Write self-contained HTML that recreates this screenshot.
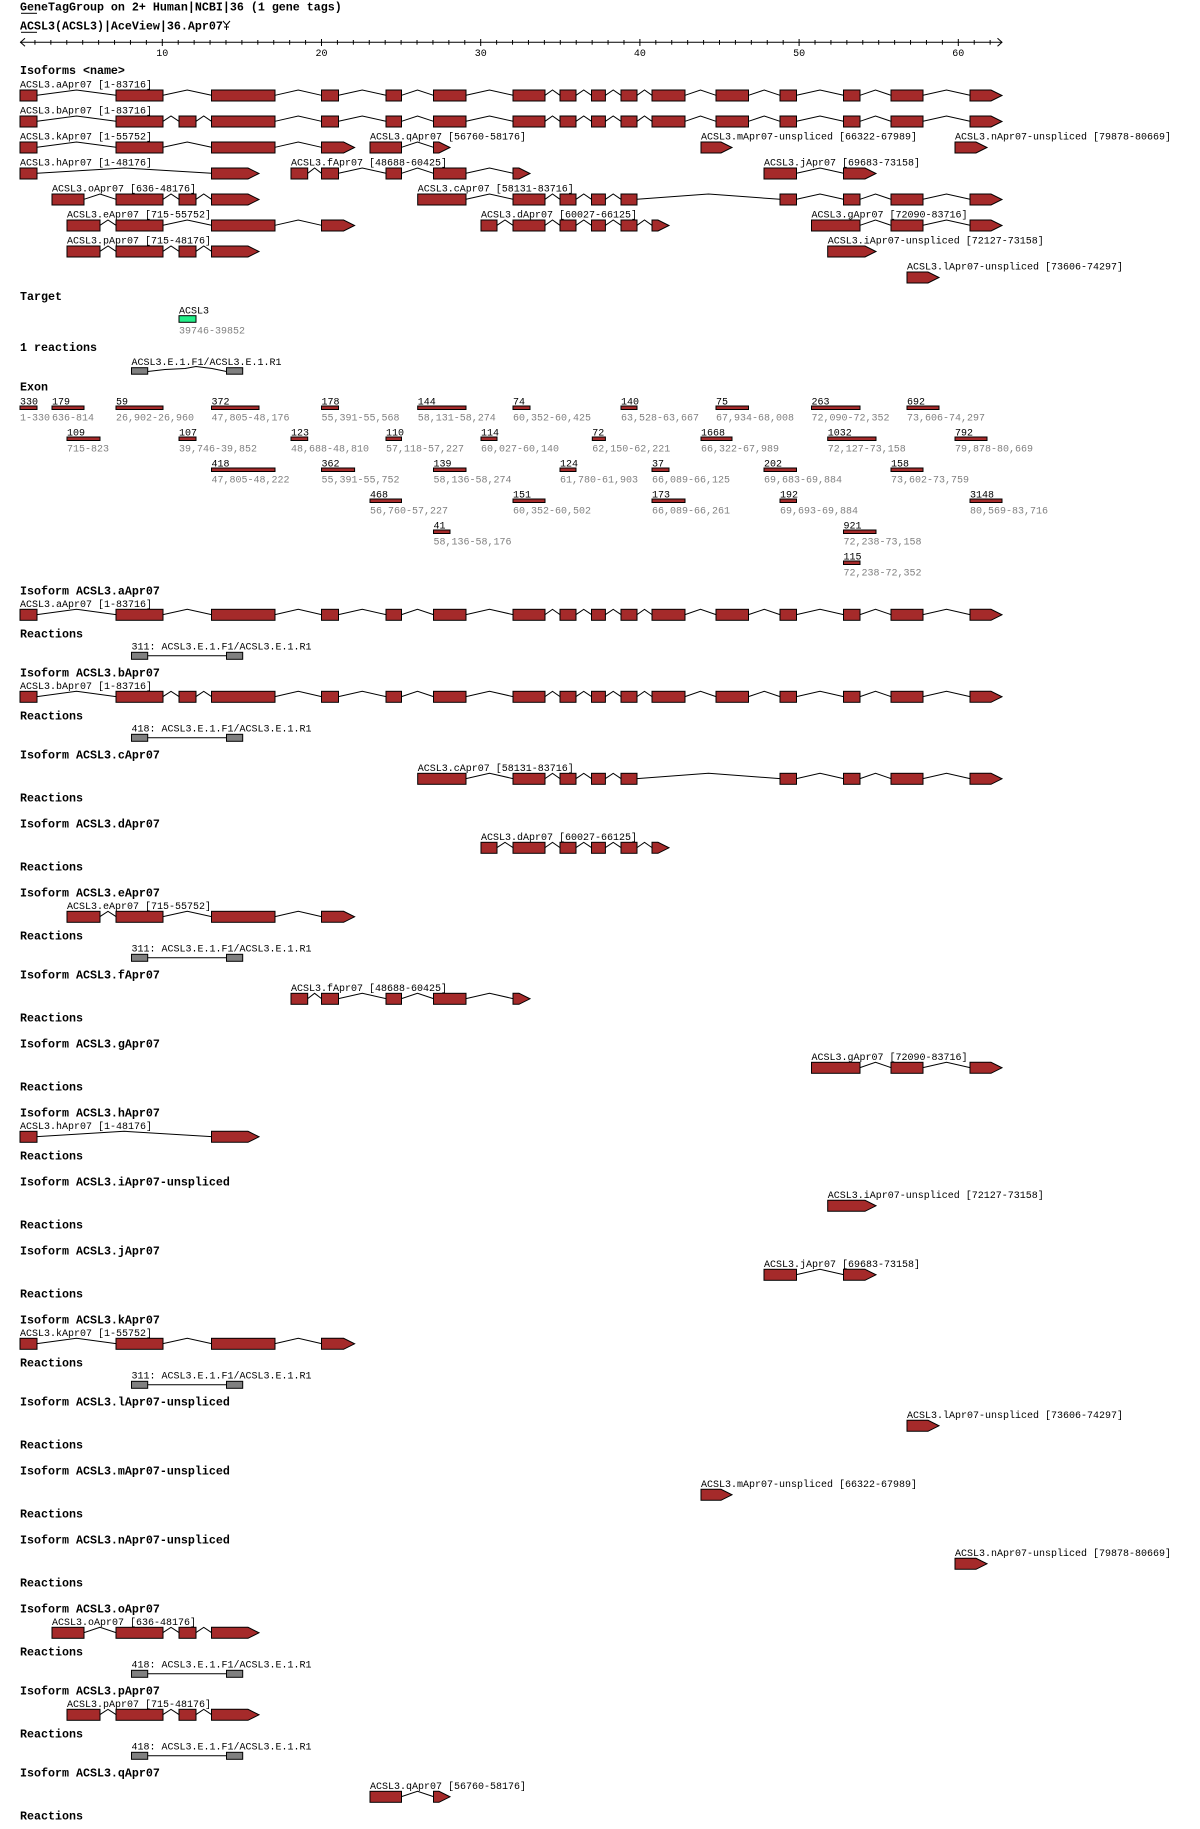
<!DOCTYPE html>
<html><head><meta charset="utf-8"><style>
html,body{margin:0;padding:0;background:#fff}
svg{display:block}
.t{font-family:"Liberation Mono",monospace;font-size:10px;fill:#000}
.g{fill:#808080}
.b{font-family:"Liberation Mono",monospace;font-size:11.67px;font-weight:bold;fill:#000}
</style></head><body>
<svg id="s" xmlns="http://www.w3.org/2000/svg" width="1200" height="1829" viewBox="0 0 1200 1829">
<g id="shapes"></g>
<text class="b" x="20" y="10.5">GeneTagGroup on 2+ Human|NCBI|36 (1 gene tags)</text>
<line x1="21" y1="13.3" x2="37" y2="13.3" stroke="#000"/>
<text class="b" x="20" y="29.3">ACSL3(ACSL3)|AceView|36.Apr07</text>
<line x1="21" y1="32.3" x2="37" y2="32.3" stroke="#000"/>
<path d="M223,21 L226.5,25 L230,21 M226.5,25 L226.5,30 M224,27 L229,27" stroke="#000" fill="none"/>
<g class="t" text-anchor="middle">
<text x="162.3" y="56">10</text><text x="321.5" y="56">20</text><text x="480.7" y="56">30</text><text x="639.9" y="56">40</text><text x="799.1" y="56">50</text><text x="958.3" y="56">60</text>
</g>
<text class="b" x="20" y="74">Isoforms &lt;name&gt;</text>
<g class="t">
<text x="20" y="87.5">ACSL3.aApr07 [1-83716]</text>
<text x="20" y="113.5">ACSL3.bApr07 [1-83716]</text>
<text x="20" y="139.5">ACSL3.kApr07 [1-55752]</text>
<text x="370" y="139.5">ACSL3.qApr07 [56760-58176]</text>
<text x="701" y="139.5">ACSL3.mApr07-unspliced [66322-67989]</text>
<text x="955" y="139.5">ACSL3.nApr07-unspliced [79878-80669]</text>
<text x="20" y="165.5">ACSL3.hApr07 [1-48176]</text>
<text x="291" y="165.5">ACSL3.fApr07 [48688-60425]</text>
<text x="764" y="165.5">ACSL3.jApr07 [69683-73158]</text>
<text x="52" y="191.5">ACSL3.oApr07 [636-48176]</text>
<text x="417.7" y="191.5">ACSL3.cApr07 [58131-83716]</text>
<text x="67" y="217.5">ACSL3.eApr07 [715-55752]</text>
<text x="481" y="217.5">ACSL3.dApr07 [60027-66125]</text>
<text x="811.5" y="217.5">ACSL3.gApr07 [72090-83716]</text>
<text x="67" y="243.5">ACSL3.pApr07 [715-48176]</text>
<text x="827.7" y="243.5">ACSL3.iApr07-unspliced [72127-73158]</text>
<text x="907" y="269.5">ACSL3.lApr07-unspliced [73606-74297]</text>
</g>
<text class="b" x="20" y="300">Target</text>
<text class="t" x="179" y="313.3">ACSL3</text>
<text class="t g" x="179" y="333.3">39746-39852</text>
<text class="b" x="20" y="351">1 reactions</text>
<text class="t" x="131.5" y="365">ACSL3.E.1.F1/ACSL3.E.1.R1</text>
<text class="b" x="20" y="390.5">Exon</text>
<g class="t">
<text x="20" y="404.3">330</text><text x="52" y="404.3">179</text><text x="116" y="404.3">59</text><text x="211.5" y="404.3">372</text><text x="321.5" y="404.3">178</text><text x="417.7" y="404.3">144</text><text x="513" y="404.3">74</text><text x="621" y="404.3">140</text><text x="716" y="404.3">75</text><text x="811.5" y="404.3">263</text><text x="907" y="404.3">692</text>
<text x="67" y="435.3">109</text><text x="179" y="435.3">107</text><text x="291" y="435.3">123</text><text x="386" y="435.3">110</text><text x="481" y="435.3">114</text><text x="592.3" y="435.3">72</text><text x="701" y="435.3">1668</text><text x="827.7" y="435.3">1032</text><text x="955" y="435.3">792</text>
<text x="211.5" y="466.3">418</text><text x="321.5" y="466.3">362</text><text x="433.5" y="466.3">139</text><text x="560" y="466.3">124</text><text x="652" y="466.3">37</text><text x="764" y="466.3">202</text><text x="891" y="466.3">158</text>
<text x="370" y="497.3">468</text><text x="513" y="497.3">151</text><text x="652" y="497.3">173</text><text x="780" y="497.3">192</text><text x="970" y="497.3">3148</text>
<text x="433.5" y="528.3">41</text><text x="843.5" y="528.3">921</text>
<text x="843.5" y="559.3">115</text>
</g>
<g class="t g">
<text x="20" y="420.3">1-330</text><text x="52" y="420.3">636-814</text><text x="116" y="420.3">26,902-26,960</text><text x="211.5" y="420.3">47,805-48,176</text><text x="321.5" y="420.3">55,391-55,568</text><text x="417.7" y="420.3">58,131-58,274</text><text x="513" y="420.3">60,352-60,425</text><text x="621" y="420.3">63,528-63,667</text><text x="716" y="420.3">67,934-68,008</text><text x="811.5" y="420.3">72,090-72,352</text><text x="907" y="420.3">73,606-74,297</text>
<text x="67" y="451.3">715-823</text><text x="179" y="451.3">39,746-39,852</text><text x="291" y="451.3">48,688-48,810</text><text x="386" y="451.3">57,118-57,227</text><text x="481" y="451.3">60,027-60,140</text><text x="592.3" y="451.3">62,150-62,221</text><text x="701" y="451.3">66,322-67,989</text><text x="827.7" y="451.3">72,127-73,158</text><text x="955" y="451.3">79,878-80,669</text>
<text x="211.5" y="482.3">47,805-48,222</text><text x="321.5" y="482.3">55,391-55,752</text><text x="433.5" y="482.3">58,136-58,274</text><text x="560" y="482.3">61,780-61,903</text><text x="652" y="482.3">66,089-66,125</text><text x="764" y="482.3">69,683-69,884</text><text x="891" y="482.3">73,602-73,759</text>
<text x="370" y="513.3">56,760-57,227</text><text x="513" y="513.3">60,352-60,502</text><text x="652" y="513.3">66,089-66,261</text><text x="780" y="513.3">69,693-69,884</text><text x="970" y="513.3">80,569-83,716</text>
<text x="433.5" y="544.3">58,136-58,176</text><text x="843.5" y="544.3">72,238-73,158</text>
<text x="843.5" y="575.3">72,238-72,352</text>
</g>
<!-- isoform blocks -->
<text class="b" x="20" y="594.5">Isoform ACSL3.aApr07</text>
<text class="t" x="20" y="606.8">ACSL3.aApr07 [1-83716]</text>
<text class="b" x="20" y="637.5">Reactions</text>
<text class="t" x="131.5" y="649.6">311: ACSL3.E.1.F1/ACSL3.E.1.R1</text>

<text class="b" x="20" y="676.5">Isoform ACSL3.bApr07</text>
<text class="t" x="20" y="688.8">ACSL3.bApr07 [1-83716]</text>
<text class="b" x="20" y="719.5">Reactions</text>
<text class="t" x="131.5" y="731.6">418: ACSL3.E.1.F1/ACSL3.E.1.R1</text>

<text class="b" x="20" y="758.5">Isoform ACSL3.cApr07</text>
<text class="t" x="417.7" y="770.8">ACSL3.cApr07 [58131-83716]</text>
<text class="b" x="20" y="801.5">Reactions</text>

<text class="b" x="20" y="827.5">Isoform ACSL3.dApr07</text>
<text class="t" x="481" y="839.8">ACSL3.dApr07 [60027-66125]</text>
<text class="b" x="20" y="870.5">Reactions</text>

<text class="b" x="20" y="896.5">Isoform ACSL3.eApr07</text>
<text class="t" x="67" y="908.8">ACSL3.eApr07 [715-55752]</text>
<text class="b" x="20" y="939.5">Reactions</text>
<text class="t" x="131.5" y="951.6">311: ACSL3.E.1.F1/ACSL3.E.1.R1</text>

<text class="b" x="20" y="978.5">Isoform ACSL3.fApr07</text>
<text class="t" x="291" y="990.8">ACSL3.fApr07 [48688-60425]</text>
<text class="b" x="20" y="1021.5">Reactions</text>

<text class="b" x="20" y="1047.5">Isoform ACSL3.gApr07</text>
<text class="t" x="811.5" y="1059.8">ACSL3.gApr07 [72090-83716]</text>
<text class="b" x="20" y="1090.5">Reactions</text>

<text class="b" x="20" y="1116.5">Isoform ACSL3.hApr07</text>
<text class="t" x="20" y="1128.8">ACSL3.hApr07 [1-48176]</text>
<text class="b" x="20" y="1159.5">Reactions</text>

<text class="b" x="20" y="1185.5">Isoform ACSL3.iApr07-unspliced</text>
<text class="t" x="827.7" y="1197.8">ACSL3.iApr07-unspliced [72127-73158]</text>
<text class="b" x="20" y="1228.5">Reactions</text>

<text class="b" x="20" y="1254.5">Isoform ACSL3.jApr07</text>
<text class="t" x="764" y="1266.8">ACSL3.jApr07 [69683-73158]</text>
<text class="b" x="20" y="1297.5">Reactions</text>

<text class="b" x="20" y="1323.5">Isoform ACSL3.kApr07</text>
<text class="t" x="20" y="1335.8">ACSL3.kApr07 [1-55752]</text>
<text class="b" x="20" y="1366.5">Reactions</text>
<text class="t" x="131.5" y="1378.6">311: ACSL3.E.1.F1/ACSL3.E.1.R1</text>

<text class="b" x="20" y="1405.5">Isoform ACSL3.lApr07-unspliced</text>
<text class="t" x="907" y="1417.8">ACSL3.lApr07-unspliced [73606-74297]</text>
<text class="b" x="20" y="1448.5">Reactions</text>

<text class="b" x="20" y="1474.5">Isoform ACSL3.mApr07-unspliced</text>
<text class="t" x="701" y="1486.8">ACSL3.mApr07-unspliced [66322-67989]</text>
<text class="b" x="20" y="1517.5">Reactions</text>

<text class="b" x="20" y="1543.5">Isoform ACSL3.nApr07-unspliced</text>
<text class="t" x="955" y="1555.8">ACSL3.nApr07-unspliced [79878-80669]</text>
<text class="b" x="20" y="1586.5">Reactions</text>

<text class="b" x="20" y="1612.5">Isoform ACSL3.oApr07</text>
<text class="t" x="52" y="1624.8">ACSL3.oApr07 [636-48176]</text>
<text class="b" x="20" y="1655.5">Reactions</text>
<text class="t" x="131.5" y="1667.6">418: ACSL3.E.1.F1/ACSL3.E.1.R1</text>

<text class="b" x="20" y="1694.5">Isoform ACSL3.pApr07</text>
<text class="t" x="67" y="1706.8">ACSL3.pApr07 [715-48176]</text>
<text class="b" x="20" y="1737.5">Reactions</text>
<text class="t" x="131.5" y="1749.6">418: ACSL3.E.1.F1/ACSL3.E.1.R1</text>

<text class="b" x="20" y="1776.5">Isoform ACSL3.qApr07</text>
<text class="t" x="370" y="1788.8">ACSL3.qApr07 [56760-58176]</text>
<text class="b" x="20" y="1819.5">Reactions</text>
</svg>
<script>
(function(){
var NS="http://www.w3.org/2000/svg",G=document.getElementById("shapes");
function el(n,a){var e=document.createElementNS(NS,n);for(var k in a)e.setAttribute(k,a[k]);G.appendChild(e);return e;}
var RED="#a52a2a";
// axis
var AY=42.3;
el("line",{x1:20,y1:AY,x2:1002,y2:AY,stroke:"#000"});
el("polyline",{points:"25,38.3 20.5,42.3 25,46.3",fill:"none",stroke:"#000"});
el("polyline",{points:"997.5,38.3 1002,42.3 997.5,46.3",fill:"none",stroke:"#000"});
for(var u=2;u<=62;u++){var x=162.3+(u-10)*15.92;var m=(u%10==0);
el("line",{x1:x,y1:m?39:40,x2:x,y2:m?46:44.7,stroke:"#000"});}
var S={E1:[20,37],E2:[116,163],Eb:[179,196],E3:[211.5,275],E4:[321.5,338.5],E5:[386,401.5],E6:[433.5,466],E7:[513,545],E8:[560,576],E9:[591.5,605.4],E10:[621,637],E11:[652,685],E12:[716,748.5],E13:[780,796.5],E14:[843.5,860],E15:[891,923]};
function A(a,b){return {a:1,x:[a,b]};}
var full=["E4","E5","E6","E7","E8","E9","E10","E11","E12","E13","E14","E15"];
function L(arr){return arr.map(function(v){return (typeof v=="string")?{x:S[v]}:(Array.isArray(v)?{x:v}:v);});}
var ISO={
a:L(["E1","E2","E3"].concat(full,[A(970,1002)])),
b:L(["E1","E2","Eb","E3"].concat(full,[A(970,1002)])),
k:L(["E1","E2","E3",A(321.5,354.6)]),
h:L(["E1",A(211.5,259)]),
o:L([[52,84],"E2","Eb",A(211.5,259)]),
e:L([[67,100],"E2","E3",A(321.5,354.6)]),
p:L([[67,100],"E2","Eb",A(211.5,259)]),
q:L([[370,401.5],A(433.5,450)]),
f:L([[291,307.7],"E4","E5","E6",A(513,530)]),
c:L([[417.7,466],"E7","E8","E9","E10","E13","E14","E15",A(970,1002)]),
d:L([[481,497],"E7","E8","E9","E10",A(652,669)]),
m:L([A(701,732)]),
n:L([A(955,987)]),
j:L([[764,796.5],A(843.5,876)]),
g:L([[811.5,860],"E15",A(970,1002)]),
i:L([A(827.7,876)]),
l:L([A(907,939)])
};
function draw(k,t){var s=ISO[k],h=11;
for(var i=0;i<s.length;i++){var x1=s[i].x[0],x2=s[i].x[1];
if(i>0){var p=s[i-1].x[1];el("polyline",{points:p+","+(t+5.3)+" "+((p+x1)/2)+","+t+" "+x1+","+(t+5.3),fill:"none",stroke:"#000"});}
if(s[i].a){var hx=x2-11;if(hx<x1)hx=x1;
el("polygon",{points:x1+","+t+" "+hx+","+t+" "+x2+","+(t+h/2)+" "+hx+","+(t+h)+" "+x1+","+(t+h),fill:RED,stroke:"#000"});}
else el("rect",{x:x1,y:t,width:x2-x1,height:h,fill:RED,stroke:"#000"});}}
// top rows
[["a",90],["b",116],["k",142],["q",142],["m",142],["n",142],["h",168],["f",168],["j",168],["o",194],["c",194],["e",220],["d",220],["g",220],["p",246],["i",246],["l",272]].forEach(function(r){draw(r[0],r[1]);});
// target
el("rect",{x:179,y:315.7,width:17,height:6.6,fill:"#22ee88",stroke:"#000"});
// top primer
el("polyline",{points:"147.7,371.5 165,369.5 185,368.5 196,366.5 212,368.5 226.5,371.5",fill:"none",stroke:"#000"});
el("rect",{x:131.5,y:367.7,width:16.2,height:6.5,fill:"#808080",stroke:"#000"});
el("rect",{x:226.5,y:367.7,width:16.2,height:6.5,fill:"#808080",stroke:"#000"});
// exon bars
var EX=[[[20,37],[52,84],[116,163],[211.5,259],[321.5,338.5],[417.7,466],[513,530],[621,637],[716,748.5],[811.5,860],[907,939]],
[[67,100],[179,196],[291,307.7],[386,401.5],[481,497],[592.3,605.4],[701,732],[827.7,876],[955,987]],
[[211.5,275],[321.5,354.6],[433.5,466],[560,576],[652,669],[764,796.5],[891,923]],
[[370,401.5],[513,545],[652,685],[780,796.5],[970,1002]],
[[433.5,450],[843.5,876]],[[843.5,860]]];
EX.forEach(function(row,r){row.forEach(function(b){el("rect",{x:b[0],y:406+31*r,width:b[1]-b[0],height:3.5,fill:RED,stroke:"#000"});});});
// blocks
var B=[["a",586,1],["b",668,1],["c",750,0],["d",819,0],["e",888,1],["f",970,0],["g",1039,0],["h",1108,0],["i",1177,0],["j",1246,0],["k",1315,1],["l",1397,0],["m",1466,0],["n",1535,0],["o",1604,1],["p",1686,1],["q",1768,0]];
B.forEach(function(b){var H=b[1];draw(b[0],H+23.3);
if(b[2]){el("line",{x1:147.7,y1:H+69.8,x2:226.5,y2:H+69.8,stroke:"#000"});
el("rect",{x:131.5,y:H+66.3,width:16.2,height:7,fill:"#808080",stroke:"#000"});
el("rect",{x:226.5,y:H+66.3,width:16.2,height:7,fill:"#808080",stroke:"#000"});}});
})();
</script>
</body></html>
